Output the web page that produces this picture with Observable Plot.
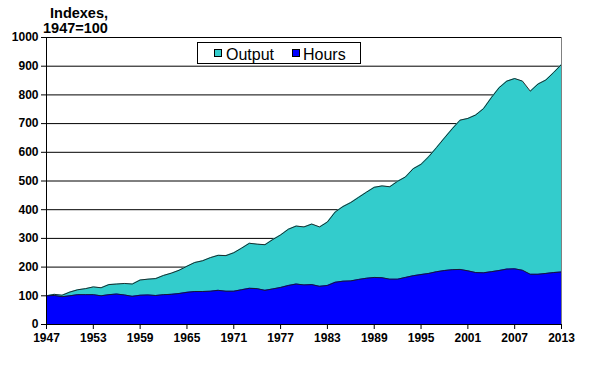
<!DOCTYPE html>
<html><head><meta charset="utf-8">
<script src="https://cdn.jsdelivr.net/npm/d3@7"></script>
<script src="https://cdn.jsdelivr.net/npm/@observablehq/plot@0.6"></script>
<style>body{margin:0;background:#fff}#chart{width:605px;height:365px}</style>
</head><body><div id="chart"></div>
<script>
const years = [1947,1948,1949,1950,1951,1952,1953,1954,1955,1956,1957,1958,1959,1960,1961,1962,1963,1964,1965,1966,1967,1968,1969,1970,1971,1972,1973,1974,1975,1976,1977,1978,1979,1980,1981,1982,1983,1984,1985,1986,1987,1988,1989,1990,1991,1992,1993,1994,1995,1996,1997,1998,1999,2000,2001,2002,2003,2004,2005,2006,2007,2008,2009,2010,2011,2012,2013];
const output = [100,105,102,113,121,125,131,128,139,141,143,141,155,158,160,171,179,189,203,216,222,233,241,240,250,266,283,280,278,296,312,332,343,340,350,340,357,392,411,425,443,461,478,483,480,499,514,543,558,585,617,650,682,712,718,730,752,790,825,848,857,848,813,838,852,878,906];
const hours = [100,101,97,100,104,104,104,100,104,106,103,98,102,103,101,104,105,108,112,115,115,116,119,116,116,121,126,125,119,124,129,136,141,138,139,133,136,147,151,152,157,161,164,163,158,158,164,170,174,178,184,188,191,192,187,181,180,184,188,193,194,189,175,175,178,181,183];
const yTicks = [0,100,200,300,400,500,600,700,800,900,1000];
const xTicks = [1947,1953,1959,1965,1971,1977,1983,1989,1995,2001,2007,2013];
const seriesNames = ["Output","Hours"];
const seriesColors = ["#33cccc","#0000ff"];
const titleLines = ["Indexes,","1947=100"];

const data = years.map((yr,i)=>({year:yr, output:output[i], hours:hours[i]}));

const chart = Plot.plot({
  width:605, height:365,
  marginLeft:46, marginRight:44, marginTop:37, marginBottom:41,
  style:{fontFamily:"'Liberation Sans', Arial, sans-serif", fontSize:"12px", fontWeight:"bold", color:"#000", background:"#fff", overflow:"visible"},
  x:{domain:[1947,2013], label:null},
  y:{domain:[0,1000], label:null},
  marks:[
    Plot.ruleY(yTicks.slice(1), {stroke:"#000", strokeWidth:1}),
    Plot.areaY(data, {x:"year", y:"output", fill:seriesColors[0]}),
    Plot.lineY(data, {x:"year", y:"output", stroke:"#1a1a1a", strokeWidth:0.9}),
    Plot.areaY(data, {x:"year", y:"hours", fill:seriesColors[1]}),
    Plot.lineY(data, {x:"year", y:"hours", stroke:"#1a1a1a", strokeWidth:0.9}),
    Plot.ruleX([2013], {stroke:"#808080"}),
    Plot.ruleX([1947], {stroke:"#000"}),
    Plot.ruleY([0], {stroke:"#000"}),
    Plot.axisX({ticks:xTicks, tickFormat:"d", tickSize:5, tickPadding:4, label:null}),
    Plot.axisY({ticks:yTicks, tickFormat:"d", tickSize:5, tickPadding:3, label:null})
  ]
});
document.getElementById("chart").appendChild(chart);

const svg = d3.select(chart);
// title
const t = svg.append("g").attr("font-size","14.5px").attr("font-weight","bold").attr("fill","#000").attr("text-anchor","start");
t.append("text").attr("x",50).attr("y",18).text(titleLines[0]);
t.append("text").attr("x",43).attr("y",33).text(titleLines[1]);
// legend
const lg = svg.append("g").attr("font-weight","normal").attr("font-size","16px").attr("text-anchor","start");
lg.append("rect").attr("x",197.5).attr("y",42.5).attr("width",163).attr("height",21).attr("fill","#fff").attr("stroke","#000");
const swX = [214, 292], txX = [226, 303];
seriesNames.forEach((n,i)=>{
  lg.append("rect").attr("x",swX[i]+0.5).attr("y",49.5).attr("width",7).attr("height",7).attr("fill",seriesColors[i]).attr("stroke","#000");
  lg.append("text").attr("x",txX[i]).attr("y",59.5).attr("fill","#000").text(n);
});
</script>
</body></html>
